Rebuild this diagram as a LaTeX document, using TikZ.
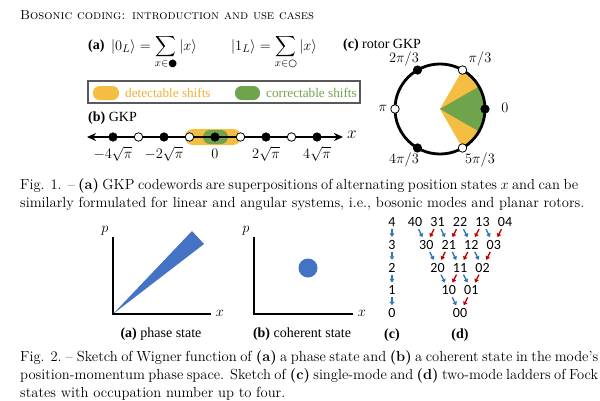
\documentclass[tikz,border=0pt]{standalone}
\usepackage{fontspec}
\usepackage{amsmath}
\usetikzlibrary{arrows.meta}
\newfontfamily\pf{Liberation Serif}
\newfontfamily\cf{Carlito}
\newfontfamily\djvf{DejaVu Sans}
\definecolor{orangeC}{HTML}{F5BD41}
\definecolor{orangeT}{HTML}{F0B030}
\definecolor{greenC}{HTML}{70A44C}
\definecolor{blueW}{HTML}{4472C4}
\definecolor{blueA}{HTML}{2E75B6}
\definecolor{redA}{HTML}{C00000}
\tikzset{
  capline/.style={anchor=base west, inner sep=0pt, font=\fontsize{14.6}{18}\selectfont},
  paneltxt/.style={inner sep=0pt, font=\pf\fontsize{14}{16}\selectfont},
  legtxt/.style={inner sep=0pt, anchor=base west, font=\pf\fontsize{13.2}{15}\selectfont},
  mathlbl/.style={inner sep=0pt, font=\fontsize{14}{16}\selectfont},
  fdot/.style={circle, fill=black, draw=black, line width=0.6pt, minimum size=8.5pt, inner sep=0pt},
  odot/.style={circle, fill=white, draw=black, line width=0.8pt, minimum size=8.5pt, inner sep=0pt},
  axisline/.style={line width=2.8pt, line join=miter, line cap=rect},
  fock/.style={inner sep=1.5pt, font=\cf\fontsize{14}{16}\selectfont},
  barr/.style={blueA, line width=1.3pt, -{Triangle[length=3.5pt,width=4.5pt]}, shorten <=1pt, shorten >=1.5pt},
  rarr/.style={redA, line width=1.3pt, -{Triangle[length=3.5pt,width=4.5pt]}, shorten <=1pt, shorten >=1.5pt},
}
\begin{document}
\begin{tikzpicture}[x=1pt,y=-1pt]
\useasboundingbox (0,0) rectangle (600,400);
% header
\node[anchor=base west, inner sep=0pt, font=\fontsize{13}{15}\selectfont] (hdr) at (20,19) {\textsc{Bosonic coding: introduction and use cases}};

% ---------- Fig 1 (a)
\node[paneltxt, anchor=base west, font=\pf\bfseries\fontsize{14}{16}\selectfont] (la) at (88,49) {(a)};
\node[anchor=base west, inner sep=0pt, font=\fontsize{15}{17}\selectfont] (eq0) at (111,50)
  {$\displaystyle |0_L\rangle = \sum_{x\in\mbox{\djvf\fontsize{10}{10}\selectfont ●}} |x\rangle$};
\node[anchor=base west, inner sep=0pt, font=\fontsize{15}{17}\selectfont] (eq1) at (231,50)
  {$\displaystyle |1_L\rangle = \sum_{x\in\mbox{\djvf\fontsize{10}{10}\selectfont ○}} |x\rangle$};
% legend
\draw[black!65, line width=1.2pt] (88,81) rectangle (360,103);
\fill[orangeC, rounded corners=6.5pt] (93,86) rectangle (119,100);
\fill[greenC, rounded corners=6.5pt] (235,86) rectangle (260,100);
\node[legtxt, text=orangeT] (ldet) at (125,97) {detectable shifts};
\node[legtxt, text=greenC] (lcor) at (266,97) {correctable shifts};

% ---------- (b) GKP
\node[paneltxt, anchor=base west] (lb) at (88,121) {\textbf{(b)} GKP};
\fill[orangeC, rounded corners=8pt] (185,129) rectangle (241,145);
\fill[greenC, rounded corners=7pt] (203,130) rectangle (228,144);
\coordinate (nlL) at (87,137);
\coordinate (nlR) at (343,137);
\draw[line width=2.2pt, {Stealth[length=9pt,width=8pt]}-{Stealth[length=9pt,width=8pt]}] (nlL) -- (nlR);
\foreach \i in {0,2,4,6,8} { \node[fdot] (g\i) at (113+25.5*\i,137) {}; }
\foreach \i in {1,3,5,7} { \node[odot] (g\i) at (113+25.5*\i,137) {}; }
\node[mathlbl, anchor=base] (t0) at (g0 |- 0,158) {$-4\sqrt{\pi}$};
\node[mathlbl, anchor=base] (t2) at (g2 |- 0,158) {$-2\sqrt{\pi}$};
\node[mathlbl, anchor=base] (t4) at (g4 |- 0,158) {$0$};
\node[mathlbl, anchor=base] (t6) at (g6 |- 0,158) {$2\sqrt{\pi}$};
\node[mathlbl, anchor=base] (t8) at (g8 |- 0,158) {$4\sqrt{\pi}$};
\node[mathlbl, font=\fontsize{16}{16}\selectfont] (xl) at (352,135) {$x$};

% ---------- (c) rotor GKP
\node[paneltxt, anchor=base west] (lc) at (343,48) {\textbf{(c)} rotor GKP};
\begin{scope}[shift={(440,109)}, yscale=-1]
  \fill[orangeC] (0,0) -- (60:45) arc (60:-60:45) -- cycle;
  \fill[greenC] (0,0) -- (30:45) arc (30:-30:45) -- cycle;
  \draw[line width=2.8pt] (0,0) circle (45);
  \node[fdot] (r0) at (0:45) {};
  \node[odot] (r1) at (60:45) {};
  \node[fdot] (r2) at (120:45) {};
  \node[odot] (r3) at (180:45) {};
  \node[fdot] (r4) at (240:45) {};
  \node[odot] (r5) at (300:45) {};
\end{scope}
\node[mathlbl] (a0) at (505,108) {$0$};
\node[mathlbl] (a1) at (480,59) {$\pi/3$};
\node[mathlbl] (a2) at (404,59) {$2\pi/3$};
\node[mathlbl] (a3) at (383,108) {$\pi$};
\node[mathlbl] (a4) at (404,160) {$4\pi/3$};
\node[mathlbl] (a5) at (480,160) {$5\pi/3$};

% ---------- Fig 1 caption
\node[capline] (c1a) at (20,189) {\makebox[558pt][s]{Fig. 1. -- \textbf{(a)} GKP codewords are superpositions of alternating position states $x$ and can be}};
\node[capline] (c1b) at (20,207) {similarly formulated for linear and angular systems, i.e., bosonic modes and planar rotors.};

% ---------- Fig 2 (a) phase state
\coordinate (oa) at (113,314);
\coordinate (pa) at (113,238);
\coordinate (xa) at (210,314);
\fill[blueW] (oa) -- (192,231) -- (204,244) -- cycle;
\draw[axisline] (pa) -- (oa) -- (xa);
\node[mathlbl, font=\fontsize{15}{15}\selectfont] (pal) at (105,231) {$p$};
\node[mathlbl, font=\fontsize{15}{15}\selectfont] (xal) at (220,313) {$x$};
\node[paneltxt, anchor=base] (capa) at (161,337) {\textbf{(a)} phase state};

% ---------- (b) coherent state
\coordinate (ob) at (254,314);
\coordinate (pb) at (254,238);
\coordinate (xb) at (352,314);
\draw[axisline] (pb) -- (ob) -- (xb);
\fill[blueW] (308,268) circle (9.5);
\node[mathlbl, font=\fontsize{15}{15}\selectfont] (pbl) at (246,231) {$p$};
\node[mathlbl, font=\fontsize{15}{15}\selectfont] (xbl) at (362,313) {$x$};
\node[paneltxt, anchor=base] (capb) at (302,337) {\textbf{(b)} coherent state};

% ---------- (c) single-mode ladder
\foreach \n in {0,...,4} { \node[fock] (s\n) at (392,{222+22.75*(4-\n)}) {\n}; }
\foreach \n [evaluate=\n as \m using int(\n-1)] in {1,...,4} { \draw[barr] (s\n) -- (s\m); }
\node[paneltxt, anchor=base] (capc) at (392,338) {\textbf{(c)}};

% ---------- (d) two-mode ladder
\foreach \i in {0,...,4} {
  \foreach \j in {0,...,4} {
    \pgfmathtruncatemacro{\s}{\i+\j}
    \ifnum\s<5
      \node[fock] (d\i\j) at ({460+11.25*(\j-\i)},{222+22.75*(4-\s)}) {\i\j};
    \fi
  }
}
\foreach \i in {0,...,4} {
  \foreach \j in {0,...,4} {
    \pgfmathtruncatemacro{\s}{\i+\j}
    \pgfmathtruncatemacro{\a}{\i-1}
    \pgfmathtruncatemacro{\b}{\j-1}
    \ifnum\s<5
      \ifnum\i>0 \draw[barr] (d\i\j) -- (d\a\j); \fi
      \ifnum\j>0 \draw[rarr] (d\i\j) -- (d\i\b); \fi
    \fi
  }
}
\node[paneltxt, anchor=base] (capd) at (460,338) {\textbf{(d)}};

% ---------- Fig 2 caption
\node[capline] (c2a) at (20,361) {\makebox[578pt][s]{Fig. 2.\hspace{4pt}--\hspace{4pt}Sketch of Wigner function of \textbf{(a)} a phase state and \textbf{(b)} a coherent state in the mode's}};
\node[capline] (c2b) at (20,379) {\makebox[578pt][s]{position-momentum phase space. Sketch of \textbf{(c)} single-mode and \textbf{(d)} two-mode ladders of Fock}};
\node[capline] (c2c) at (20,397) {states with occupation number up to four.};
\end{tikzpicture}
\end{document}
